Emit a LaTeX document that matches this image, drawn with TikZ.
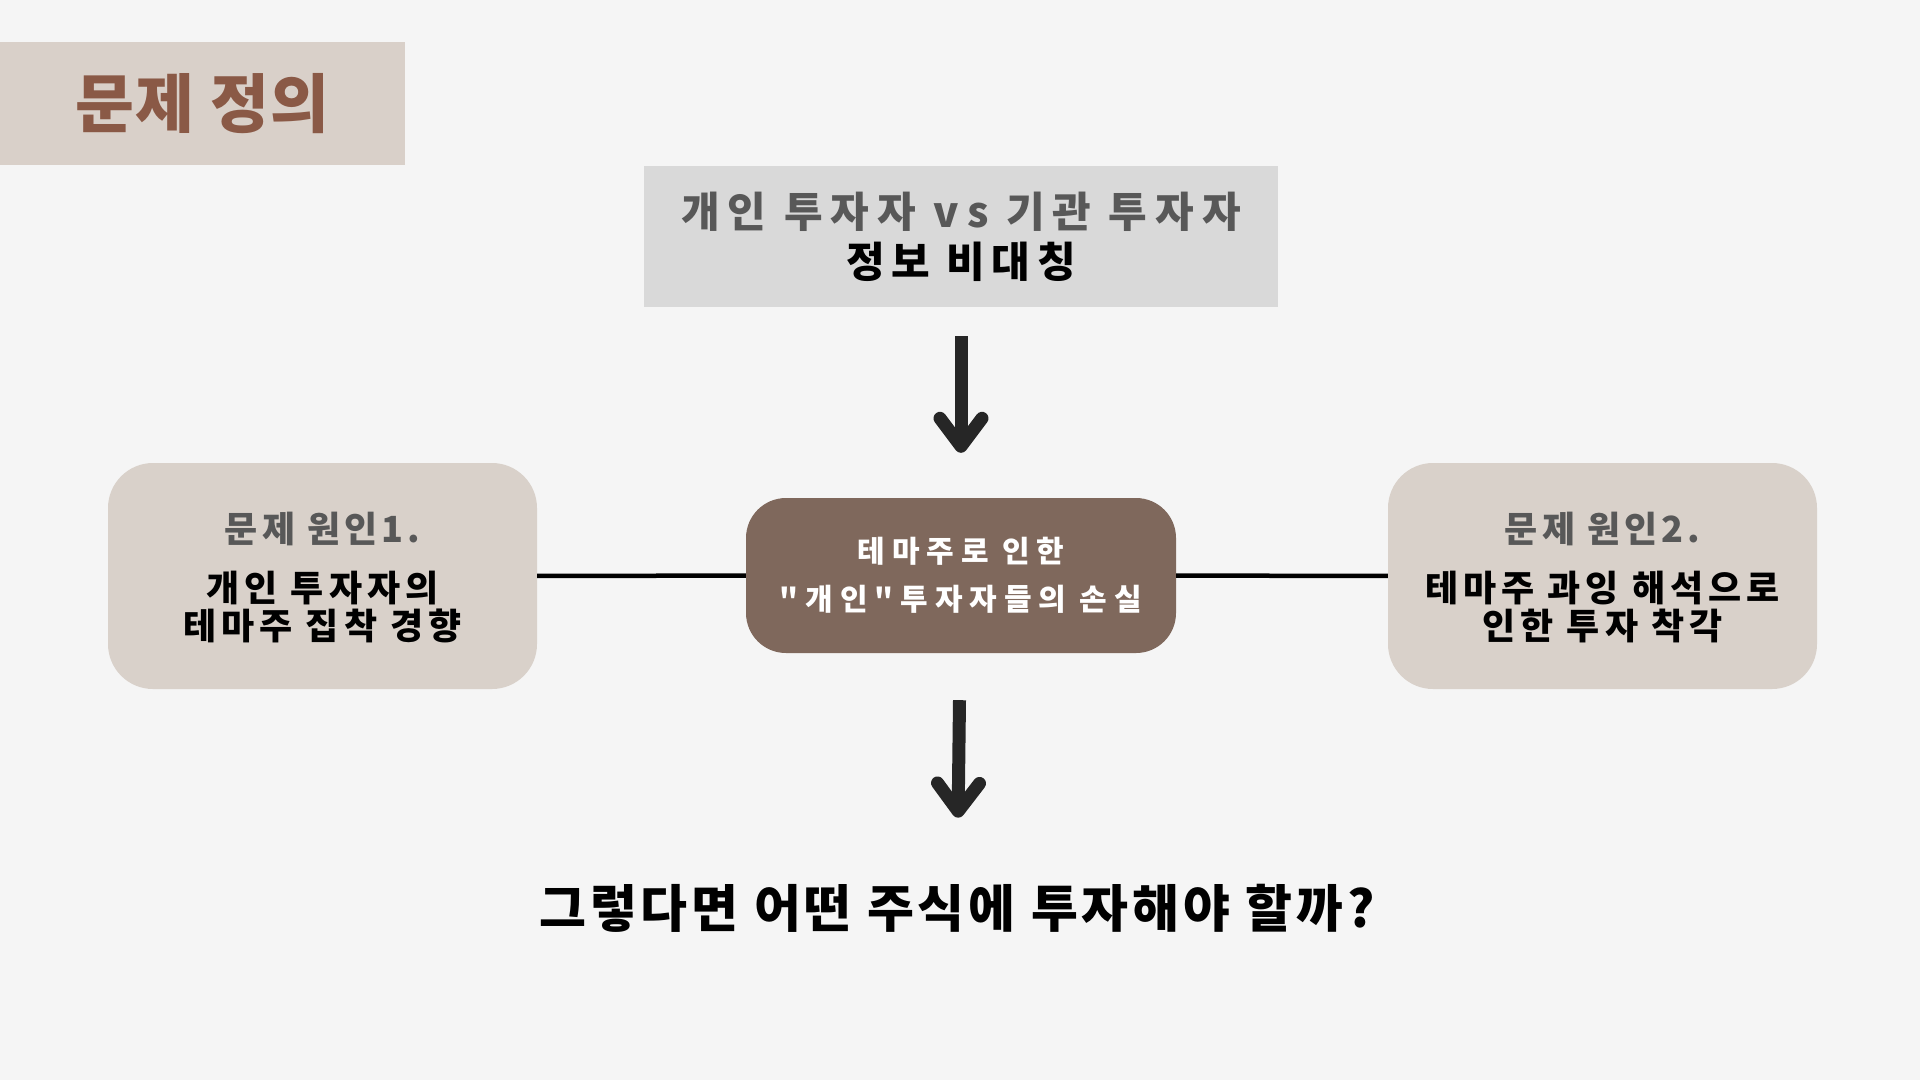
\documentclass[tikz,border=0pt]{standalone}
\usepackage{fontspec}
\usepackage{xcolor}
\usetikzlibrary{arrows.meta,positioning}
\newfontfamily\kr{Noto Sans CJK KR}
\newfontfamily\krblack{Noto Sans CJK KR Black}
\definecolor{pagebg}{HTML}{F5F5F5}
\definecolor{headfill}{HTML}{D9D0C9}
\definecolor{headtext}{HTML}{8A5946}
\definecolor{gapfill}{HTML}{D9D9D9}
\definecolor{causefill}{HTML}{D9D1CA}
\definecolor{lossfill}{HTML}{7F685C}
\definecolor{subgray}{HTML}{585858}
\definecolor{arrowgray}{HTML}{262626}
\tikzset{%
	heading/.style   = {fill=headfill, text=headtext, minimum width=405pt, minimum height=123pt, inner sep=0pt, font=\krblack\fontsize{64}{64}\selectfont\addfontfeatures{LetterSpace=2}},
	gapbox/.style    = {fill=gapfill, minimum width=634pt, minimum height=141pt, align=center, font=\kr\bfseries\fontsize{42}{50}\selectfont}, % top box
	lossbox/.style   = {fill=lossfill, text=white, rounded corners=40pt, minimum width=430pt, minimum height=155pt, align=center, font=\kr\bfseries\fontsize{30}{48}\selectfont\addfontfeatures{LetterSpace=23}},
	causebox/.style  = {fill=causefill, rounded corners=45pt, minimum width=429pt, minimum height=226pt},
	causehead/.style = {inner sep=0pt, text=subgray, font=\kr\bfseries\fontsize{36}{36}\selectfont\addfontfeatures{LetterSpace=11}},
	causetext/.style = {inner sep=0pt, align=center, font=\kr\bfseries\fontsize{36}{38}\selectfont\addfontfeatures{LetterSpace=14}},
	question/.style  = {inner sep=0pt, font=\krblack\fontsize{51}{51}\selectfont\addfontfeatures{LetterSpace=7.5}},
	link/.style      = {line width=4.5pt},
	flow/.style      = {line width=13pt, draw=arrowgray, -{Straight Barb[round,length=28pt,width=42pt]}},
}
\begin{document}
\begin{tikzpicture}[x=1pt,y=-1pt]
	\fill[pagebg] (0,0) rectangle (1920,1080);
	\node[heading] (title) at (202.5,103.5) {문제 정의};
	\node[gapbox] (gap) at (961,236.5) {{\color{subgray}\addfontfeatures{LetterSpace=19}개인 투자자 vs 기관 투자자}\\{\addfontfeatures{LetterSpace=16}정보 비대칭}};
	\node[lossbox] (loss) at (961,575.5) {테마주로 인한\\"개인"투자자들의 손실};
	% causes, left and right
	\node[causebox] (cause1) at (322.5,576) {};
	\node[causehead] (cause1 head) at ([yshift=47pt]cause1.center) {문제 원인1.};
	\node[causetext] (cause1 text) at ([yshift=-31pt]cause1.center) {개인 투자자의\\테마주 집착 경향};
	\node[causebox] (cause2) at (1602.5,576) {};
	\node[causehead] (cause2 head) at ([yshift=47pt]cause2.center) {문제 원인2.};
	\node[causetext] (cause2 text) at ([yshift=-31pt]cause2.center) {테마주 과잉 해석으로\\인한 투자 착각};
	\node[question] (ask) at (957,908) {그렇다면 어떤 주식에 투자해야 할까?};
	\draw[link] (cause1) -- (loss);
	\draw[link] (loss) -- (cause2);
	\draw[flow, shorten <=29pt, shorten >=45pt] (gap) -- (loss);
	\draw[flow, shorten <=47pt, shorten >=66pt] (loss) -- (ask);
\end{tikzpicture}
\end{document}
